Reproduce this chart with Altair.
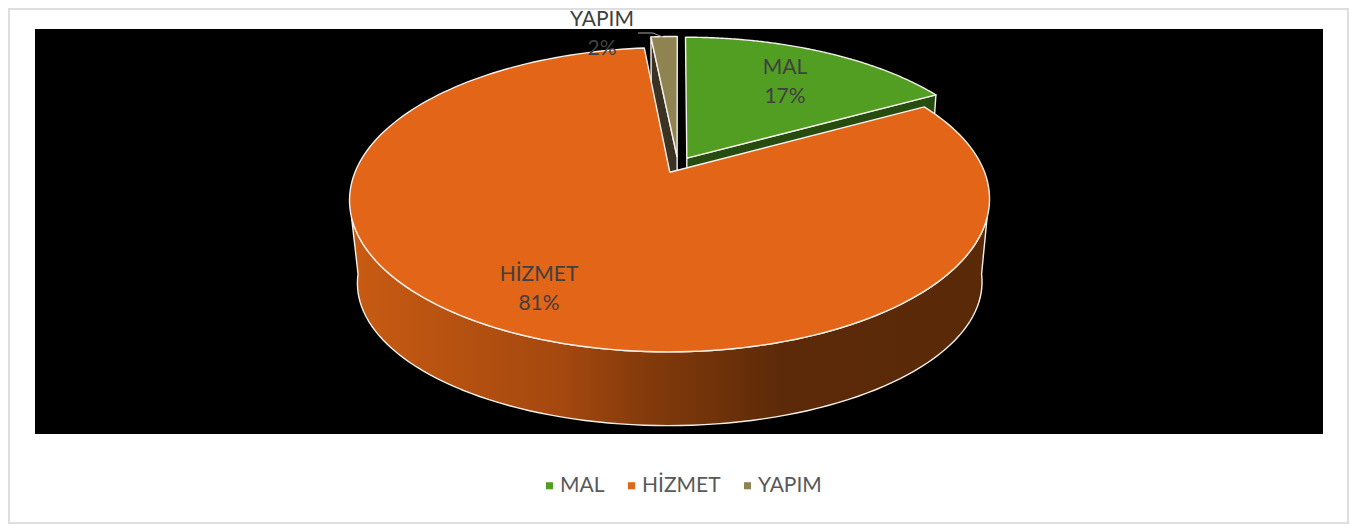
import math
import altair as alt
import pandas as pd

categories = ["MAL", "HİZMET", "YAPIM"]
shares = [17.0, 81.4, 1.6]
percent_labels = ["17%", "81%", "2%"]
top_colors = ["#529E22", "#E36517", "#8F8352"]

FONT = "Lato"
W, H = 1341, 516
X_DOM, Y_DOM = [8, 8 + W], [8 + H, 8]
EXPLODE = 0.056
TOP = dict(cx=678, cy=165, R=312, S=144.7, k=0.1784)
BOT = dict(cx=678, cy=250, R=304.5, S=136, k=0.1784)


def proj(u, v, p):
    w = 1 + p["k"] * v
    return p["cx"] + p["R"] * u / w, p["cy"] - p["S"] * v / w


def sweep(a, b, n=90):
    return [a + (b - a) * i / n for i in range(n + 1)]


bounds = []
acc = 0.0
for s in shares:
    bounds.append((acc * 3.6, (acc + s) * 3.6))
    acc += s


def offset(idx):
    a, b = bounds[idx]
    m = math.radians((a + b) / 2)
    return EXPLODE * math.sin(m), EXPLODE * math.cos(m)


def rim(idx, deg, p):
    du, dv = offset(idx)
    t = math.radians(deg)
    return proj(math.sin(t) + du, math.cos(t) + dv, p)


def apex(idx, p):
    du, dv = offset(idx)
    return proj(du, dv, p)


def table(points):
    pts = list(points) + [points[0]]
    return [{"x": x, "y": y, "i": i} for i, (x, y) in enumerate(pts)]


base = dict(
    x=alt.X("x:Q", scale=alt.Scale(domain=X_DOM, nice=False, zero=False), axis=None),
    y=alt.Y("y:Q", scale=alt.Scale(domain=Y_DOM, nice=False, zero=False), axis=None),
)


def poly(points, fill):
    return alt.Chart(pd.DataFrame(table(points))).mark_line(
        filled=True, fill=fill, stroke="#F4F0EA", strokeWidth=1.4, strokeJoin="round", clip=False
    ).encode(order="i:Q", **base)


# frame and black plot panel
frame = alt.Chart(pd.DataFrame([{"x": 9, "x2": 1348, "y": 9, "y2": 523}])).mark_rect(
    fill="white", stroke="#DEDEDE", strokeWidth=2
).encode(x2="x2:Q", y2="y2:Q", **base)
panel = alt.Chart(pd.DataFrame([{"x": 35, "x2": 1323, "y": 29, "y2": 434}])).mark_rect(
    fill="black"
).encode(x2="x2:Q", y2="y2:Q", **base)

# walls of the two exploded slices, seen behind the large slice
mal_wall = poly(
    [apex(0, TOP)] + [rim(0, bounds[0][1], TOP), rim(0, bounds[0][1], BOT), apex(0, BOT)],
    "#274C10",
)
yap_wall = poly(
    [rim(2, bounds[2][0], TOP), apex(2, TOP), apex(2, BOT), rim(2, bounds[2][0], BOT)],
    "#3A3323",
)

# front wall of the large slice
wall_gradient = alt.Gradient(
    gradient="linear", x1=0, x2=1, y1=0, y2=0,
    stops=[
        alt.GradientStop(offset=0.0, color="#C85B13"),
        alt.GradientStop(offset=0.33, color="#A4480F"),
        alt.GradientStop(offset=0.47, color="#823A0B"),
        alt.GradientStop(offset=0.68, color="#5C2A08"),
        alt.GradientStop(offset=1.0, color="#5A2907"),
    ],
)
orange_wall = poly(
    [rim(1, d, TOP) for d in sweep(107, 253)] + [rim(1, d, BOT) for d in sweep(263, 97)],
    wall_gradient,
)

# top faces, coloured by category so that the legend comes from them
rows = []
for idx, cat in enumerate(categories):
    a, b = bounds[idx]
    pts = [apex(idx, TOP)] + [rim(idx, d, TOP) for d in sweep(a, b, 180)]
    for r in table(pts):
        r["cat"] = cat
        rows.append(r)

tops = alt.Chart(pd.DataFrame(rows)).mark_line(
    filled=True, stroke="#F4F0EA", strokeWidth=1.4, strokeJoin="round"
).encode(
    order="i:Q",
    color=alt.Color(
        "cat:N",
        scale=alt.Scale(domain=categories, range=top_colors),
        legend=alt.Legend(
            title=None,
            orient="none",
            direction="horizontal",
            legendX=531,
            legendY=467,
            symbolType="square",
            symbolSize=50,
            symbolStrokeWidth=0,
            labelFont=FONT,
            labelFontSize=21,
            labelColor="#595959",
            labelOffset=0,
            columnPadding=16,
            padding=0,
        ),
    ),
    **base,
)

# leader for the small slice
leader = alt.Chart(pd.DataFrame([
    {"x": 638, "y": 33, "i": 0},
    {"x": 653, "y": 33, "i": 1},
    {"x": 665, "y": 38, "i": 2},
])).mark_line(stroke="#A6A6A6", strokeWidth=1).encode(order="i:Q", **base)

# data labels
label_x = [785, 539, 602]
label_y = [68, 275, 20]
label_rows = []
for c, pct, lx, ly in zip(categories, percent_labels, label_x, label_y):
    label_rows.append({"x": lx, "y": ly, "t": c})
    label_rows.append({"x": lx, "y": ly + 29, "t": pct})
labels = alt.Chart(pd.DataFrame(label_rows)).mark_text(
    font=FONT, fontSize=21, color="#404040", align="center", baseline="middle"
).encode(text="t:N", **base)

chart = alt.layer(
    frame, panel, mal_wall, yap_wall, orange_wall, tops, leader, labels
).properties(
    width=W, height=H, padding=0, background="white",
    autosize=alt.AutoSizeParams(type="none"),
).configure_view(stroke=None)

chart.save("out.html", embed_options={"renderer": "svg", "actions": False})
